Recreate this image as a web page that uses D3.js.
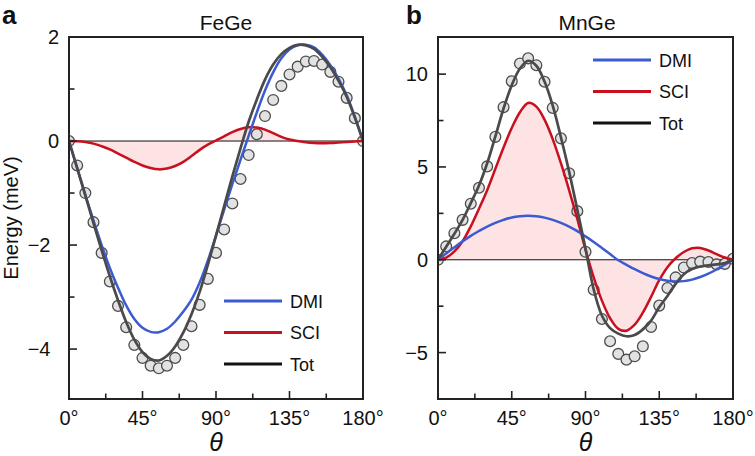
<!DOCTYPE html>
<html><head><meta charset="utf-8">
<script src="https://cdn.jsdelivr.net/npm/d3@7"></script>
<style>
body{margin:0;background:#fff}
text{font-family:"Liberation Sans",Arial,Helvetica,sans-serif;fill:#111}
</style>
</head><body><svg id="c" width="755" height="456"></svg>
<script>
// ---------- data ----------
const theta = [0,5,10,15,20,25,30,35,40,45,50,55,60,65,70,75,80,85,90,95,100,105,110,115,120,125,130,135,140,145,150,155,160,165,170,175,180];

// Panel a: FeGe (meV)
const fegeDots = [0,-0.47,-1.0,-1.56,-2.15,-2.70,-3.17,-3.58,-3.92,-4.17,-4.32,-4.37,-4.32,-4.17,-3.92,-3.56,-3.15,-2.65,-2.15,-1.70,-1.20,-0.73,-0.27,0.13,0.48,0.79,1.06,1.28,1.43,1.53,1.54,1.47,1.33,1.14,0.83,0.44,0.0];
const fegeDMI  = [0,-0.52,-1.03,-1.53,-2.00,-2.44,-2.82,-3.16,-3.42,-3.59,-3.67,-3.675,-3.61,-3.47,-3.28,-3.05,-2.72,-2.30,-1.82,-1.32,-0.83,-0.36,0.10,0.55,0.97,1.32,1.59,1.76,1.84,1.85,1.80,1.66,1.46,1.20,0.88,0.47,0];
const fegeSCI  = [0,-0.005,-0.02,-0.05,-0.10,-0.16,-0.24,-0.32,-0.40,-0.47,-0.52,-0.545,-0.53,-0.48,-0.40,-0.29,-0.17,-0.07,0.01,0.09,0.17,0.23,0.265,0.26,0.22,0.15,0.08,0.03,0.0,-0.025,-0.04,-0.045,-0.04,-0.03,-0.02,-0.01,0];
const fegeTot  = [0,-0.52,-1.05,-1.58,-2.10,-2.60,-3.06,-3.48,-3.82,-4.06,-4.19,-4.22,-4.13,-3.95,-3.68,-3.33,-2.90,-2.38,-1.82,-1.25,-0.68,-0.14,0.37,0.80,1.18,1.47,1.67,1.79,1.85,1.84,1.77,1.62,1.42,1.16,0.85,0.45,0];

// Panel b: MnGe (meV)
const mngeDots = [0,0.72,1.43,2.15,3.02,3.88,5.03,6.62,8.22,9.62,10.57,10.85,10.48,9.59,8.18,6.54,4.66,2.62,0.43,-1.61,-3.19,-4.39,-5.07,-5.38,-5.2,-4.66,-3.62,-2.47,-1.52,-0.95,-0.42,-0.18,-0.1,-0.12,-0.25,-0.22,0.05];
const mngeDMI  = [0,0.34,0.67,0.99,1.29,1.55,1.79,1.99,2.15,2.28,2.35,2.37,2.345,2.27,2.15,1.99,1.78,1.54,1.26,0.96,0.64,0.31,-0.03,-0.27,-0.51,-0.72,-0.90,-1.04,-1.13,-1.17,-1.15,-1.07,-0.93,-0.75,-0.52,-0.27,0];
const mngeSCI  = [0,0.12,0.45,1.0,1.8,2.75,3.75,4.9,6.05,7.1,7.95,8.45,8.25,7.55,6.5,5.2,3.75,2.2,0.55,-0.95,-2.2,-3.15,-3.72,-3.82,-3.5,-2.85,-2.0,-1.1,-0.4,0.08,0.42,0.62,0.64,0.5,0.3,0.12,0];
const mngeTot  = [0,0.7,1.4,2.15,3.05,4.0,5.2,6.65,8.15,9.4,10.3,10.72,10.45,9.6,8.3,6.6,4.75,2.7,0.6,-1.6,-3.0,-3.68,-3.98,-4.12,-4.05,-3.75,-3.28,-2.55,-1.95,-1.3,-0.78,-0.5,-0.36,-0.3,-0.25,-0.18,0];

const xTickVals = [0,45,90,135,180];
const xMinorVals = [22.5,67.5,112.5,157.5];
const fegeYTicks = [-4,-2,0,2];
const fegeYMinor = [-3,-1,1];
const mngeYTicks = [-5,0,5,10];
const mngeYMinor = [-2.5,2.5,7.5];
const seriesNames = ["DMI","SCI","Tot"];
const titles = ["FeGe","MnGe"];
const letters = ["a","b"];

// ---------- style ----------
const col = {DMI:"#3c5bd0", SCI:"#c8101e", Tot:"#4a4a4a", fill:"#fde3e3", legTot:"#111"};

const svg = d3.select("#c");

const panels = [
  {letter:letters[0], title:titles[0], dots:fegeDots, DMI:fegeDMI, SCI:fegeSCI, Tot:fegeTot,
   x0:69, x1:363, y0:37, y1:399, ydom:[-4.96,2], yt:fegeYTicks, ym:fegeYMinor,
   negShift:8.5, titleX:226, letterX:2, legX:224, legY:301, showYLabel:true},
  {letter:letters[1], title:titles[1], dots:mngeDots, DMI:mngeDMI, SCI:mngeSCI, Tot:mngeTot,
   x0:438, x1:733, y0:37, y1:399, ydom:[-7.5,12], yt:mngeYTicks, ym:mngeYMinor,
   negShift:0, titleX:587, letterX:406, legX:593, legY:60, showYLabel:false}
];

panels.forEach(p => {
  const x = d3.scaleLinear().domain([0,180]).range([p.x0,p.x1]);
  const y = d3.scaleLinear().domain(p.ydom).range([p.y1,p.y0]);
  const g = svg.append("g");
  const clipId = "clip"+p.letter;
  svg.append("clipPath").attr("id",clipId).append("rect")
    .attr("x",p.x0).attr("y",p.y0).attr("width",p.x1-p.x0).attr("height",p.y1-p.y0);
  const pg = g.append("g").attr("clip-path",`url(#${clipId})`);

  const idx = d3.range(theta.length);
  const area = d3.area().x(i=>x(theta[i])).y0(y(0)).y1(i=>y(p.SCI[i])).curve(d3.curveCatmullRom.alpha(0.5));
  pg.append("path").attr("d",area(idx)).attr("fill",col.fill);
  pg.append("line").attr("x1",p.x0).attr("x2",p.x1).attr("y1",y(0)).attr("y2",y(0))
    .attr("stroke","#111").attr("stroke-width",1);
  pg.selectAll("circle.d").data(idx).enter().append("circle")
    .attr("cx",i=>x(theta[i])).attr("cy",i=>y(p.dots[i])).attr("r",5.4)
    .attr("fill","#e2e2e2").attr("stroke","#4d4d4d").attr("stroke-width",1.3);
  const line = arr => d3.line().x(i=>x(theta[i])).y(i=>y(arr[i])).curve(d3.curveCatmullRom.alpha(0.5))(idx);
  pg.append("path").attr("d",line(p.SCI)).attr("fill","none").attr("stroke",col.SCI).attr("stroke-width",2.5);
  pg.append("path").attr("d",line(p.DMI)).attr("fill","none").attr("stroke",col.DMI).attr("stroke-width",2.5);
  pg.append("path").attr("d",line(p.Tot)).attr("fill","none").attr("stroke",col.Tot).attr("stroke-width",2.7);

  const tk = g.append("g").attr("stroke","#222").attr("stroke-width",1.6);
  xTickVals.forEach(v=>tk.append("line").attr("x1",x(v)).attr("x2",x(v)).attr("y1",p.y1).attr("y2",p.y1-8));
  xMinorVals.forEach(v=>tk.append("line").attr("x1",x(v)).attr("x2",x(v)).attr("y1",p.y1).attr("y2",p.y1-5.5));
  p.yt.forEach(v=>tk.append("line").attr("x1",p.x0).attr("x2",p.x0+8).attr("y1",y(v)).attr("y2",y(v)));
  p.ym.forEach(v=>tk.append("line").attr("x1",p.x0).attr("x2",p.x0+5.5).attr("y1",y(v)).attr("y2",y(v)));

  g.append("rect").attr("x",p.x0).attr("y",p.y0).attr("width",p.x1-p.x0).attr("height",p.y1-p.y0)
    .attr("fill","none").attr("stroke","#222").attr("stroke-width",2);

  xTickVals.forEach(v=>g.append("text").attr("x",x(v)).attr("y",425).attr("text-anchor","middle")
    .attr("font-size",20).text(v+"°"));
  p.yt.forEach(v=>g.append("text").attr("x",p.x0-10-(v<0?p.negShift:0)).attr("y",y(v)+7)
    .attr("text-anchor","end").attr("font-size",20).text(v<0?"\u2212"+Math.abs(v):String(v)));

  g.append("text").attr("x",(p.x0+p.x1)/2).attr("y",451).attr("text-anchor","middle")
    .attr("font-family","'Liberation Serif','Times New Roman',serif").attr("font-style","italic")
    .attr("font-size",25).text("\u03B8");

  g.append("text").attr("x",p.titleX).attr("y",30).attr("text-anchor","middle").attr("font-size",21).text(p.title);
  g.append("text").attr("x",p.letterX).attr("y",24).attr("font-size",26).attr("font-weight","bold").text(p.letter);

  const lcols = [col.DMI,col.SCI,col.legTot];
  const lg = g.append("g");
  seriesNames.forEach((n,i)=>{
    const ly = p.legY + i*31.5;
    lg.append("line").attr("x1",p.legX).attr("x2",p.legX+58).attr("y1",ly).attr("y2",ly)
      .attr("stroke",lcols[i]).attr("stroke-width",3);
    lg.append("text").attr("x",p.legX+66).attr("y",ly+6.5).attr("font-size",18).text(n);
  });

  if (p.showYLabel) {
    g.append("text").attr("transform",`translate(18,${(p.y0+p.y1)/2}) rotate(-90)`)
      .attr("text-anchor","middle").attr("font-size",20).text("Energy (meV)");
  }
});
</script>
</body></html>
